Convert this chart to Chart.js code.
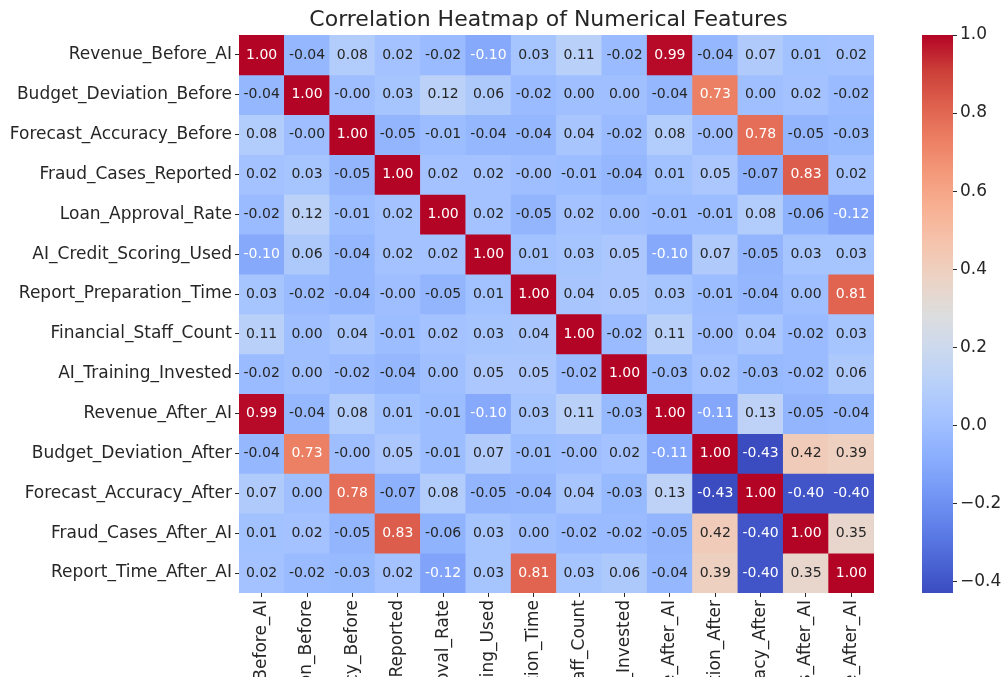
<!DOCTYPE html>
<html>
<head>
<meta charset="utf-8">
<script src="https://cdn.jsdelivr.net/npm/chart.js@4.4.0/dist/chart.umd.min.js"></script>
<style>
  html, body { margin: 0; padding: 0; background: #fff; }
  #wrap { position: relative; width: 1003px; height: 677px; overflow: hidden; }
  #heat { position: absolute; left: 0; top: 0; }
  #cbar { position: absolute; left: 880px; top: 0; }
</style>
</head>
<body>
<div id="wrap">
  <canvas id="heat" width="880" height="677"></canvas>
  <canvas id="cbar" width="123" height="677"></canvas>
</div>
<script>
const features = [
  'Revenue_Before_AI', 'Budget_Deviation_Before', 'Forecast_Accuracy_Before',
  'Fraud_Cases_Reported', 'Loan_Approval_Rate', 'AI_Credit_Scoring_Used',
  'Report_Preparation_Time', 'Financial_Staff_Count', 'AI_Training_Invested',
  'Revenue_After_AI', 'Budget_Deviation_After', 'Forecast_Accuracy_After',
  'Fraud_Cases_After_AI', 'Report_Time_After_AI'
];

// -0.001 stands for the "-0.00" cells
const corr = [
  [1.00, -0.04, 0.08, 0.02, -0.02, -0.10, 0.03, 0.11, -0.02, 0.99, -0.04, 0.07, 0.01, 0.02],
  [-0.04, 1.00, -0.001, 0.03, 0.12, 0.06, -0.02, 0.00, 0.00, -0.04, 0.73, 0.00, 0.02, -0.02],
  [0.08, -0.001, 1.00, -0.05, -0.01, -0.04, -0.04, 0.04, -0.02, 0.08, -0.001, 0.78, -0.05, -0.03],
  [0.02, 0.03, -0.05, 1.00, 0.02, 0.02, -0.001, -0.01, -0.04, 0.01, 0.05, -0.07, 0.83, 0.02],
  [-0.02, 0.12, -0.01, 0.02, 1.00, 0.02, -0.05, 0.02, 0.00, -0.01, -0.01, 0.08, -0.06, -0.12],
  [-0.10, 0.06, -0.04, 0.02, 0.02, 1.00, 0.01, 0.03, 0.05, -0.10, 0.07, -0.05, 0.03, 0.03],
  [0.03, -0.02, -0.04, -0.001, -0.05, 0.01, 1.00, 0.04, 0.05, 0.03, -0.01, -0.04, 0.00, 0.81],
  [0.11, 0.00, 0.04, -0.01, 0.02, 0.03, 0.04, 1.00, -0.02, 0.11, -0.001, 0.04, -0.02, 0.03],
  [-0.02, 0.00, -0.02, -0.04, 0.00, 0.05, 0.05, -0.02, 1.00, -0.03, 0.02, -0.03, -0.02, 0.06],
  [0.99, -0.04, 0.08, 0.01, -0.01, -0.10, 0.03, 0.11, -0.03, 1.00, -0.11, 0.13, -0.05, -0.04],
  [-0.04, 0.73, -0.001, 0.05, -0.01, 0.07, -0.01, -0.001, 0.02, -0.11, 1.00, -0.43, 0.42, 0.39],
  [0.07, 0.00, 0.78, -0.07, 0.08, -0.05, -0.04, 0.04, -0.03, 0.13, -0.43, 1.00, -0.40, -0.40],
  [0.01, 0.02, -0.05, 0.83, -0.06, 0.03, 0.00, -0.02, -0.02, -0.05, 0.42, -0.40, 1.00, 0.35],
  [0.02, -0.02, -0.03, 0.02, -0.12, 0.03, 0.81, 0.03, 0.06, -0.04, 0.39, -0.40, 0.35, 1.00]
];

const vmin = -0.43;
const vmax = 1.0;
const cbarTicks = [-0.4, -0.2, 0.0, 0.2, 0.4, 0.6, 0.8, 1.0];

// coolwarm colormap, sampled
const coolwarm = [
  [59, 76, 192], [77, 104, 215], [98, 130, 234], [119, 154, 247],
  [141, 176, 254], [163, 194, 255], [184, 208, 249], [204, 217, 238],
  [221, 221, 221], [236, 211, 197], [245, 196, 173], [247, 177, 148],
  [244, 154, 123], [236, 127, 99], [222, 96, 77], [203, 62, 56], [180, 4, 38]
];

function cmapRGB(t) {
  t = Math.max(0, Math.min(1, t));
  const p = t * (coolwarm.length - 1);
  const i = Math.min(Math.floor(p), coolwarm.length - 2);
  const f = p - i;
  const a = coolwarm[i], b = coolwarm[i + 1];
  return [0, 1, 2].map(k => Math.round(a[k] + (b[k] - a[k]) * f));
}
const rgbStr = c => `rgb(${c[0]},${c[1]},${c[2]})`;
const valueColor = v => rgbStr(cmapRGB((v - vmin) / (vmax - vmin)));

function textColor(v) {
  const c = cmapRGB((v - vmin) / (vmax - vmin)).map(x => {
    x /= 255;
    return x <= 0.03928 ? x / 12.92 : Math.pow((x + 0.055) / 1.055, 2.4);
  });
  const lum = 0.2126 * c[0] + 0.7152 * c[1] + 0.0722 * c[2];
  return lum > 0.408 ? '#262626' : '#ffffff';
}

const FONT = 'DejaVu Sans';
const INK = '#262626';

const annotations = {
  id: 'annotations',
  afterDatasetsDraw(chart) {
    const { ctx, scales: { x, y } } = chart;
    ctx.save();
    ctx.font = `14px "${FONT}"`;
    ctx.textAlign = 'center';
    ctx.textBaseline = 'middle';
    corr.forEach((row, i) => {
      row.forEach((v, j) => {
        ctx.fillStyle = textColor(v);
        ctx.fillText(v.toFixed(2), x.getPixelForValue(j), y.getPixelForValue(i));
      });
    });
    ctx.restore();
  }
};

const heatTitle = {
  id: 'heatTitle',
  afterDraw(chart) {
    const { ctx, chartArea } = chart;
    ctx.save();
    ctx.font = `22px "${FONT}"`;
    ctx.fillStyle = INK;
    ctx.textAlign = 'center';
    ctx.textBaseline = 'middle';
    ctx.fillText('Correlation Heatmap of Numerical Features', (chartArea.left + chartArea.right) / 2 - 8, 20);
    ctx.restore();
  }
};

new Chart(document.getElementById('heat'), {
  type: 'bar',
  data: {
    labels: features,
    datasets: corr.map((row, i) => ({
      data: row.map(() => [i - 0.5, i + 0.5]),
      backgroundColor: row.map(valueColor),
      borderWidth: 0,
      borderSkipped: false,
      grouped: false,
      barPercentage: 1,
      categoryPercentage: 1
    }))
  },
  options: {
    responsive: false,
    animation: false,
    layout: { padding: { top: 35, right: 6, left: 0, bottom: 0 } },
    plugins: { legend: { display: false }, tooltip: { enabled: false } },
    scales: {
      x: {
        grid: { offset: false, drawOnChartArea: false, tickLength: 4, tickColor: INK },
        border: { display: false },
        ticks: {
          autoSkip: false, minRotation: 90, maxRotation: 90, padding: 3,
          color: INK, font: { family: FONT, size: 17 }
        },
        afterFit(scale) { scale.height = 84; }
      },
      y: {
        type: 'linear',
        min: -0.5,
        max: 13.5,
        reverse: true,
        grid: { drawOnChartArea: false, tickLength: 4, tickColor: INK },
        border: { display: false },
        afterBuildTicks(scale) { scale.ticks = features.map((_, i) => ({ value: i })); },
        ticks: {
          autoSkip: false, padding: 3, color: INK, font: { family: FONT, size: 17 },
          callback: v => features[v]
        },
        afterFit(scale) { scale.width = 239; }
      }
    }
  },
  plugins: [annotations, heatTitle]
});

new Chart(document.getElementById('cbar'), {
  type: 'bar',
  data: {
    labels: ['cbar'],
    datasets: [{
      data: [[vmin, vmax]],
      backgroundColor(context) {
        const chart = context.chart;
        if (!chart.chartArea) return '#ddd';
        const y = chart.scales.y;
        const g = chart.ctx.createLinearGradient(0, y.getPixelForValue(vmin), 0, y.getPixelForValue(vmax));
        coolwarm.forEach((c, k) => g.addColorStop(k / (coolwarm.length - 1), rgbStr(c)));
        return g;
      },
      borderWidth: 0,
      borderSkipped: false,
      barPercentage: 1,
      categoryPercentage: 1
    }]
  },
  options: {
    responsive: false,
    animation: false,
    layout: { padding: { top: 35, left: 42, right: 0, bottom: 84 } },
    plugins: { legend: { display: false }, tooltip: { enabled: false } },
    scales: {
      x: { display: false },
      y: {
        position: 'right',
        min: vmin,
        max: vmax,
        grid: { drawOnChartArea: false, tickLength: 4, tickColor: INK },
        border: { display: false },
        afterBuildTicks(scale) { scale.ticks = cbarTicks.map(v => ({ value: v })); },
        ticks: {
          padding: 3, color: INK, font: { family: FONT, size: 17 },
          callback: v => (v < 0 ? '\u2212' : '') + Math.abs(v).toFixed(1)
        },
        afterFit(scale) { scale.width = 50; }
      }
    }
  }
});
</script>
</body>
</html>
